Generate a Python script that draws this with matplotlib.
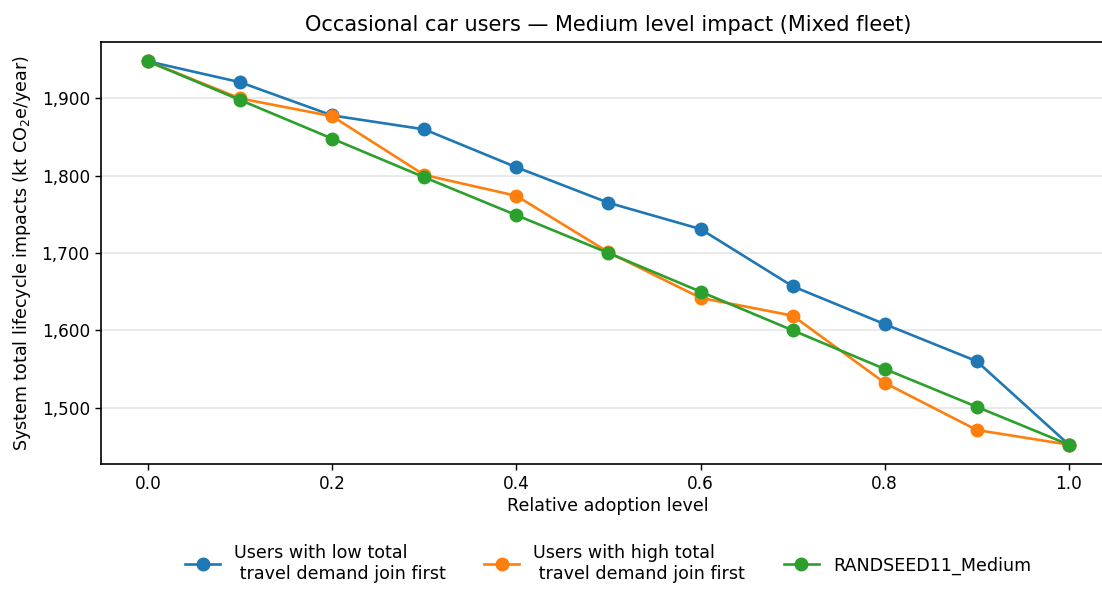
import matplotlib
matplotlib.use("Agg")
import matplotlib.pyplot as plt
from matplotlib.ticker import FuncFormatter

# adoption levels
adoption = [0.0, 0.1, 0.2, 0.3, 0.4, 0.5, 0.6, 0.7, 0.8, 0.9, 1.0]

# system totals (kt CO2e/year)
low_first = [1948, 1921, 1878, 1860, 1811, 1765, 1731, 1657, 1608, 1560, 1452]
high_first = [1948, 1900, 1877, 1801, 1774, 1701, 1642, 1619, 1532, 1471, 1452]
randseed = [1948, 1898, 1848, 1798, 1749, 1700, 1650, 1600, 1550, 1501, 1452]

labels = [
    "Users with low total\n travel demand join first",
    "Users with high total\n travel demand join first",
    "RANDSEED11_Medium",
]

fig = plt.figure(figsize=(11.02, 5.92), dpi=100)
ax = fig.add_axes([0.0917, 0.2162, 0.920, 0.7128])

ax.plot(adoption, low_first, marker="o", markersize=9, linewidth=1.9, color="#1f77b4", label=labels[0])
ax.plot(adoption, high_first, marker="o", markersize=9, linewidth=1.9, color="#ff7f0e", label=labels[1])
ax.plot(adoption, randseed, marker="o", markersize=9, linewidth=1.9, color="#2ca02c", label=labels[2])

ax.set_ylim(1427, 1973)
ax.set_xlim(-0.051, 1.05)
ax.set_yticks([1500, 1600, 1700, 1800, 1900])
ax.yaxis.set_major_formatter(FuncFormatter(lambda v, p: f"{v:,.0f}"))
ax.grid(axis="y", color="#e6e6e6", linewidth=1.2)
ax.set_axisbelow(True)

ax.tick_params(labelsize=12.2, length=4.5, width=1)
ax.set_title("Occasional car users — Medium level impact (Mixed fleet)", fontsize=15, pad=8)
ax.set_xlabel("Relative adoption level", fontsize=12.6, labelpad=3)
ax.set_ylabel("System total lifecycle impacts (kt CO$_2$e/year)", fontsize=12.6, labelpad=6)
for s in ax.spines.values():
    s.set_linewidth(1.2)

ax.legend(loc="upper center", bbox_to_anchor=(0.5, -0.165), ncol=3, frameon=False,
          fontsize=12.6, columnspacing=2.2, handlelength=2.0, labelspacing=0.2,
          borderaxespad=0.2)

fig.savefig("out.png", dpi=100)
